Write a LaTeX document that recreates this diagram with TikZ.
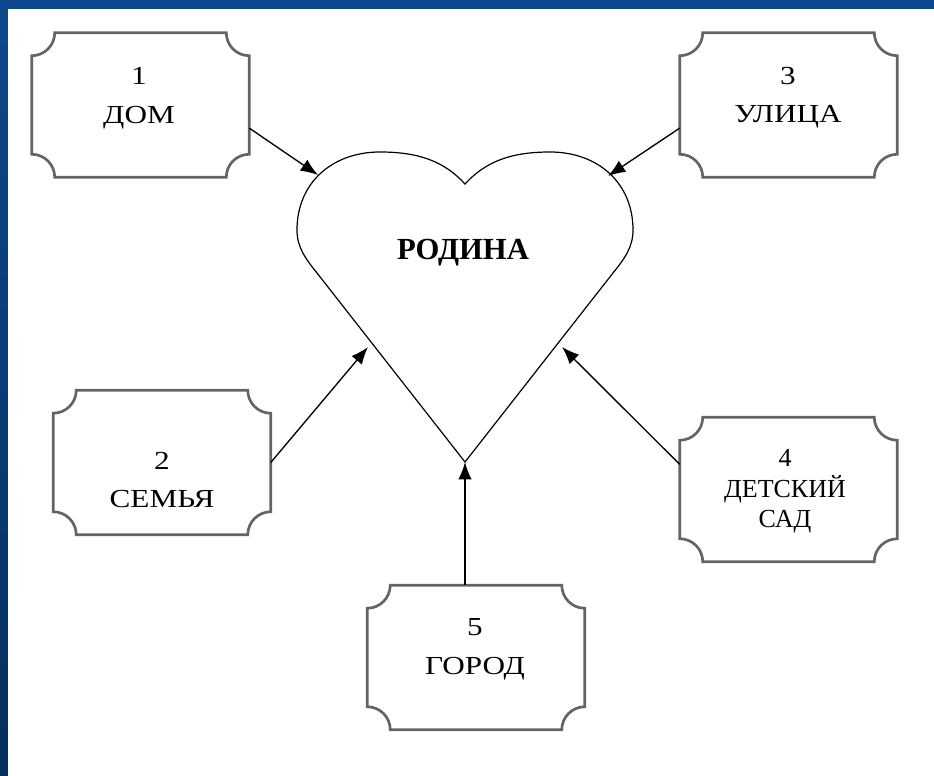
\documentclass[tikz,border=0pt]{standalone}
\usepackage{xcolor}
\usepackage{fontspec}
\setmainfont{Liberation Serif}
\newfontfamily\wideserif[FakeStretch=1.2]{Liberation Serif}
\usepackage{tikz}
\usetikzlibrary{calc}
\usetikzlibrary{arrows.meta}
\usetikzlibrary{positioning}

\definecolor{bgtop}{RGB}{14,72,142}
\definecolor{bgbot}{RGB}{5,48,92}
\definecolor{rim}{RGB}{100,100,100}

\tikzset{
 plaque/.style={rectangle, draw=none, inner sep=0pt, minimum width=162.75pt, minimum height=108pt},
 caption/.style={align=center, inner sep=0pt, font=\wideserif\fontsize{19.5}{29}\selectfont},
 link/.style={-{Latex[length=13pt,width=10pt]}, line width=1pt, draw=black}
}

\begin{document}
\begin{tikzpicture}[x=0.75pt, y=0.75pt]
 \useasboundingbox (0,0) rectangle (934,775);
 \fill [top color=bgtop, bottom color=bgbot] (0,0) rectangle (934,775);
 \fill [white] (8,-2) rectangle (936,766);

 \node [plaque] (dom) at (140.5, 670) {};
 \node [plaque] (ulica) at (788.5, 670) {};
 \node [plaque] (semya) at (162, 312.5) {};
 \node [plaque] (sad) at (788.5, 285.5) {};
 \node [plaque] (gorod) at (476, 117.5) {};

 \foreach \b in {dom, ulica, semya, sad, gorod}
  \draw [draw=rim, line width=2pt, fill=white]
   ($(\b.north west)+(23,0)$) -- ($(\b.north east)+(-23,0)$)
   arc [start angle=180, end angle=270, radius=17.25pt]
   -- ($(\b.south east)+(0,23)$)
   arc [start angle=90, end angle=180, radius=17.25pt]
   -- ($(\b.south west)+(23,0)$)
   arc [start angle=0, end angle=90, radius=17.25pt]
   -- ($(\b.north west)+(0,-23)$)
   arc [start angle=-90, end angle=0, radius=17.25pt]
   -- cycle;

 \node [caption] (domtext) at (139, 677) {1\\ДОМ};
 \node [caption] (ulicatext) at (788, 677.5) {3\\УЛИЦА};
 \node [caption] (semyatext) at (162, 295) {2\\СЕМЬЯ};
 \node [caption, font=\rmfamily\fontsize{19.5}{23}\selectfont] (sadtext) at (785, 283.5) {4\\ДЕТСКИЙ\\САД};
 \node [caption] (gorodtext) at (475, 126) {5\\ГОРОД};

 \draw [line width=0.9pt, fill=white] (465,591)
  .. controls (486,614) and (512,623) .. (550,623)
  .. controls (598,623) and (633,592) .. (633,545)
  .. controls (633,528) and (625,517) .. (613,502)
  -- (465,313) -- (317,502)
  .. controls (305,517) and (297,528) .. (297,545)
  .. controls (297,592) and (332,623) .. (380,623)
  .. controls (418,623) and (444,614) .. (465,591) -- cycle;
 \node [font=\bfseries\fontsize{23}{27}\selectfont] (rodina) at (463, 522) {РОДИНА};

 \coordinate (h1) at (318, 600);
 \coordinate (h3) at (608, 599);
 \coordinate (h2) at (368, 428);
 \coordinate (h4) at (562, 428);
 \coordinate (tip) at (465, 313);

 \draw [link] (dom.-12) -- (h1);
 \draw [link] (ulica.192) -- (h3);
 \draw [link] (semya.east) -- (h2);
 \draw [link] (sad.167) -- (h4);
 \draw [link] (tip |- gorod.north) -- (tip);
\end{tikzpicture}
\end{document}
